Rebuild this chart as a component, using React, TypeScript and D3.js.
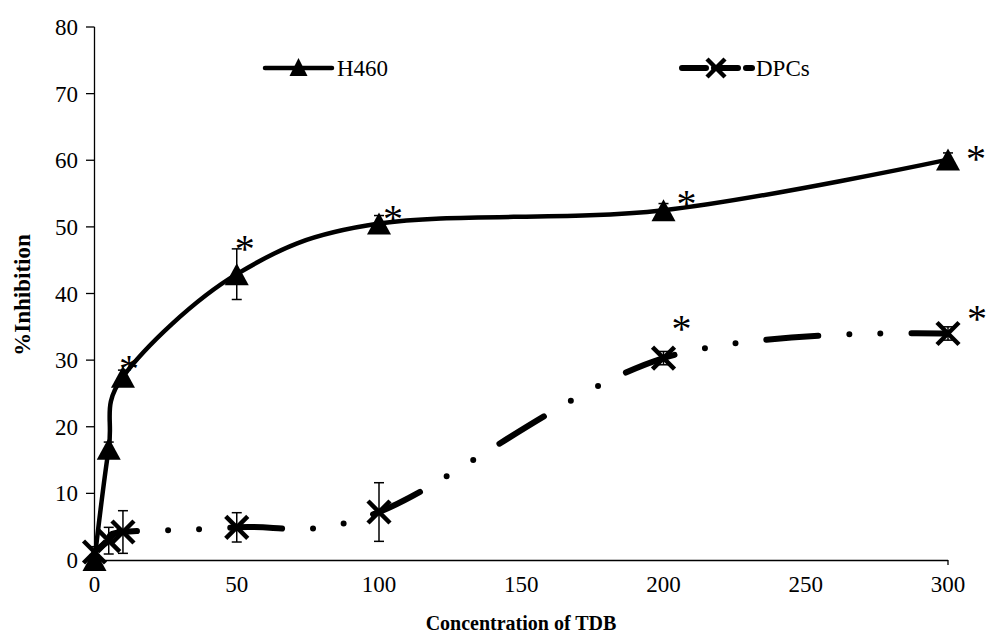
import React from "react";
import * as d3 from "d3";

// concentrations of TDB
const conc = [0, 5, 10, 50, 100, 200, 300];

// % inhibition, H460 cells
const h460 = [0, 16.7, 27.5, 42.9, 50.5, 52.5, 60.1];
const h460Err = [0.8, 1, 1, 3.8, 1.2, 1, 1];

// % inhibition, DPCs
const dpcs = [1.2, 2.9, 4.2, 4.9, 7.2, 30.3, 34.0];
const dpcsErr = [0.8, 2.0, 3.2, 2.2, 4.4, 1, 1];

// significance marks (index into conc)
const h460Stars = [2, 3, 4, 5, 6];
const dpcsStars = [5, 6];
// where each "*" sits relative to its point (px)
const h460StarOffset = [[6, -15], [8, -32], [14, -12], [23, -13], [28, -8]];
const dpcsStarOffset = [[18, -36], [29, -21]];

const yTicks = [0, 10, 20, 30, 40, 50, 60, 70, 80];
const xTicks = [0, 50, 100, 150, 200, 250, 300];

const W = 987;
const H = 641;
const FONT = "'Liberation Serif', 'Times New Roman', serif";

export default function App() {
  const x = d3.scaleLinear().domain([0, 300]).range([94.5, 948]);
  const y = d3.scaleLinear().domain([0, 80]).range([560, 27]);

  const curve = d3.curveCardinal.tension(0);
  const line = d3
    .line<number>()
    .x((_, i) => x(conc[i]))
    .y((d) => y(d))
    .curve(curve);

  const tri = (cx: number, cy: number, w: number, h: number) =>
    `M${cx - w / 2},${cy + h / 2}L${cx},${cy - h / 2}L${cx + w / 2},${cy + h / 2}Z`;

  const cross = (cx: number, cy: number, s: number, key: string) => (
    <g key={key} stroke="#000" strokeWidth={4.5}>
      <line x1={cx - s} y1={cy - s} x2={cx + s} y2={cy + s} />
      <line x1={cx - s} y1={cy + s} x2={cx + s} y2={cy - s} />
    </g>
  );

  const errBar = (i: number, v: number, e: number, key: string) => {
    const cx = x(conc[i]);
    return (
      <g key={key} stroke="#000" strokeWidth={1.5}>
        <line x1={cx} x2={cx} y1={y(v - e)} y2={y(v + e)} />
        <line x1={cx - 5} x2={cx + 5} y1={y(v - e)} y2={y(v - e)} />
        <line x1={cx - 5} x2={cx + 5} y1={y(v + e)} y2={y(v + e)} />
      </g>
    );
  };

  const dash = "52,31,0,31,0,31";

  return (
    <svg
      width={W}
      height={H}
      style={{ position: "fixed", left: 0, top: 0, background: "#fff" }}
      fontFamily={FONT}
    >
      {/* axes */}
      <line x1={94.5} x2={94.5} y1={27} y2={560} stroke="#000" strokeWidth={1.3} />
      <line x1={94.5} x2={948} y1={560.5} y2={560.5} stroke="#000" strokeWidth={1.3} />
      <line x1={948} x2={948} y1={560} y2={565} stroke="#000" strokeWidth={1.3} />
      {yTicks.map((t) => (
        <g key={"yt" + t}>
          <line x1={86} x2={94.5} y1={y(t)} y2={y(t)} stroke="#000" strokeWidth={1.3} />
          <text x={78} y={y(t)} dy="0.35em" textAnchor="end" fontSize={23}>
            {t}
          </text>
        </g>
      ))}
      {xTicks.map((t) => (
        <text key={"xt" + t} x={x(t)} y={592} textAnchor="middle" fontSize={23}>
          {t}
        </text>
      ))}
      <text x={521} y={630} textAnchor="middle" fontSize={20} fontWeight="bold">
        Concentration of TDB
      </text>
      <text
        transform={`translate(30,295) rotate(-90)`}
        textAnchor="middle"
        fontSize={23}
        fontWeight="bold"
      >
        %Inhibition
      </text>

      {/* error bars */}
      {conc.map((_, i) => errBar(i, h460[i], h460Err[i], "he" + i))}
      {conc.map((_, i) => errBar(i, dpcs[i], dpcsErr[i], "de" + i))}

      {/* DPCs series */}
      <path
        d={line(dpcs) || ""}
        fill="none"
        stroke="#000"
        strokeWidth={6}
        strokeLinecap="round"
        strokeDasharray={dash}
      />
      {dpcs.map((v, i) => cross(x(conc[i]), y(v), 11, "dm" + i))}

      {/* H460 series */}
      <path d={line(h460) || ""} fill="none" stroke="#000" strokeWidth={4.5} />
      {h460.map((v, i) => (
        <path key={"hm" + i} d={tri(x(conc[i]), y(v), 24, 22)} fill="#000" />
      ))}

      {/* significance */}
      {h460Stars.map((idx, k) => (
        <text
          key={"hs" + idx}
          x={x(conc[idx]) + h460StarOffset[k][0]}
          y={y(h460[idx]) + h460StarOffset[k][1] + 20}
          textAnchor="middle"
          fontSize={40}
        >
          *
        </text>
      ))}
      {dpcsStars.map((idx, k) => (
        <text
          key={"ds" + idx}
          x={x(conc[idx]) + dpcsStarOffset[k][0]}
          y={y(dpcs[idx]) + dpcsStarOffset[k][1] + 20}
          textAnchor="middle"
          fontSize={40}
        >
          *
        </text>
      ))}

      {/* legend */}
      <line x1={265} x2={332} y1={68} y2={68} stroke="#000" strokeWidth={4.5} strokeLinecap="round" />
      <path d={tri(298.5, 67, 18, 18)} fill="#000" />
      <text x={337} y={68} dy="0.35em" fontSize={23}>
        H460
      </text>
      <line
        x1={682}
        x2={752}
        y1={68}
        y2={68}
        stroke="#000"
        strokeWidth={6}
        strokeLinecap="round"
        strokeDasharray="24,8"
      />
      {cross(716, 68, 9, "lg")}
      <text x={756} y={68} dy="0.35em" fontSize={23}>
        DPCs
      </text>
    </svg>
  );
}
